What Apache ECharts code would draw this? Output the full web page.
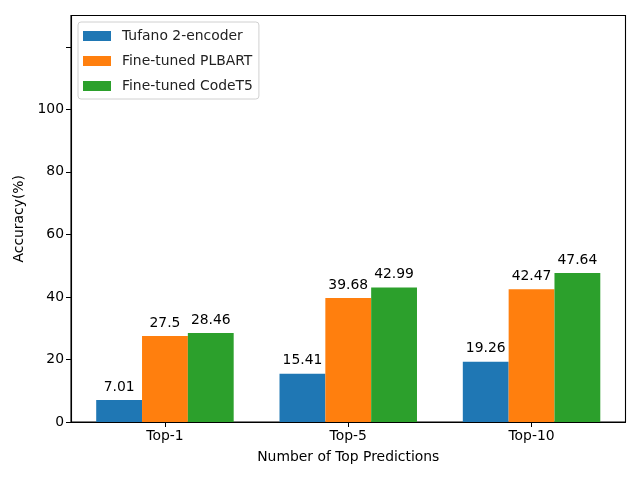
<!DOCTYPE html>
<html>
<head>
<meta charset="utf-8">
<script src="https://cdn.jsdelivr.net/npm/echarts@6/dist/echarts.min.js"></script>
<style>html,body{margin:0;padding:0;background:#fff}#c{width:640px;height:480px}</style>
</head>
<body>
<div id="c"></div>
<script>
const categories = ['Top-1', 'Top-5', 'Top-10'];
const seriesNames = ['Tufano 2-encoder', 'Fine-tuned PLBART', 'Fine-tuned CodeT5'];
const tufano = [7.01, 15.41, 19.26];
const plbart = [27.5, 39.68, 42.47];
const codet5 = [28.46, 42.99, 47.64];
const yTicks = [0, 20, 40, 60, 80, 100, 120];
const yLabels = [0, 20, 40, 60, 80, 100];
const colors = ['#1f77b4', '#ff7f0e', '#2ca02c'];

const xMin = -0.5125, xMax = 2.5125;
const gridLeft = 71, gridRight = 14.5, gridTop = 15.5, gridBottom = 58;
const plotW = 640 - gridLeft - gridRight;
const barW = plotW / (xMax - xMin) * 0.25;
const offsets = [-0.25, 0, 0.25];
const all = [tufano, plbart, codet5];
const font = 'DejaVu Sans';
const fs = 13.9;

const chart = echarts.init(document.getElementById('c'), null, {renderer: 'canvas'});
chart.setOption({
  animation: false,
  textStyle: {fontFamily: font},
  grid: {left: gridLeft, right: gridRight, top: gridTop, bottom: gridBottom, show: true, borderColor: '#000', borderWidth: 1.1, backgroundColor: 'transparent'},
  legend: {
    orient: 'vertical', left: 78, top: 22,
    data: seriesNames,
    itemWidth: 28, itemHeight: 10, itemGap: 11,
    padding: [7, 6, 6, 5],
    borderColor: '#d0d0d0', borderWidth: 1, borderRadius: 3,
    backgroundColor: 'rgba(255,255,255,0.8)',
    icon: 'rect',
    textStyle: {fontFamily: font, fontSize: fs, color: '#222', padding: [0, 0, 0, 6]}
  },
  xAxis: {
    type: 'value', min: xMin, max: xMax,
    name: 'Number of Top Predictions', nameLocation: 'middle', nameGap: 28,
    nameTextStyle: {fontFamily: font, fontSize: fs, color: '#000'},
    splitLine: {show: false},
    axisLine: {show: true, onZero: false, lineStyle: {color: '#000', width: 1.1}},
    axisTick: {show: true, customValues: [0, 1, 2], length: 5, lineStyle: {color: '#000'}},
    axisLabel: {customValues: [0, 1, 2], formatter: v => categories[Math.round(v)], fontFamily: font, fontSize: fs, color: '#000', margin: 7}
  },
  yAxis: {
    type: 'value', min: 0, max: 130,
    name: 'Accuracy(%)', nameLocation: 'middle', nameGap: 40, nameRotate: 90,
    nameTextStyle: {fontFamily: font, fontSize: fs, color: '#000'},
    splitLine: {show: false},
    axisLine: {show: true, onZero: false, lineStyle: {color: '#000', width: 1.1}},
    axisTick: {show: true, customValues: yTicks, length: 5, lineStyle: {color: '#000'}},
    axisLabel: {customValues: yLabels, fontFamily: font, fontSize: fs, color: '#000', margin: 7}
  },
  series: all.map((vals, si) => ({
    name: seriesNames[si],
    type: 'bar',
    barWidth: barW,
    barGap: '-100%',
    itemStyle: {color: colors[si]},
    label: {show: true, position: 'top', distance: 6, fontFamily: font, fontSize: fs, color: '#000', formatter: p => String(p.value[1])},
    data: vals.map((v, i) => [i + offsets[si], v])
  }))
});
</script>
</body>
</html>
